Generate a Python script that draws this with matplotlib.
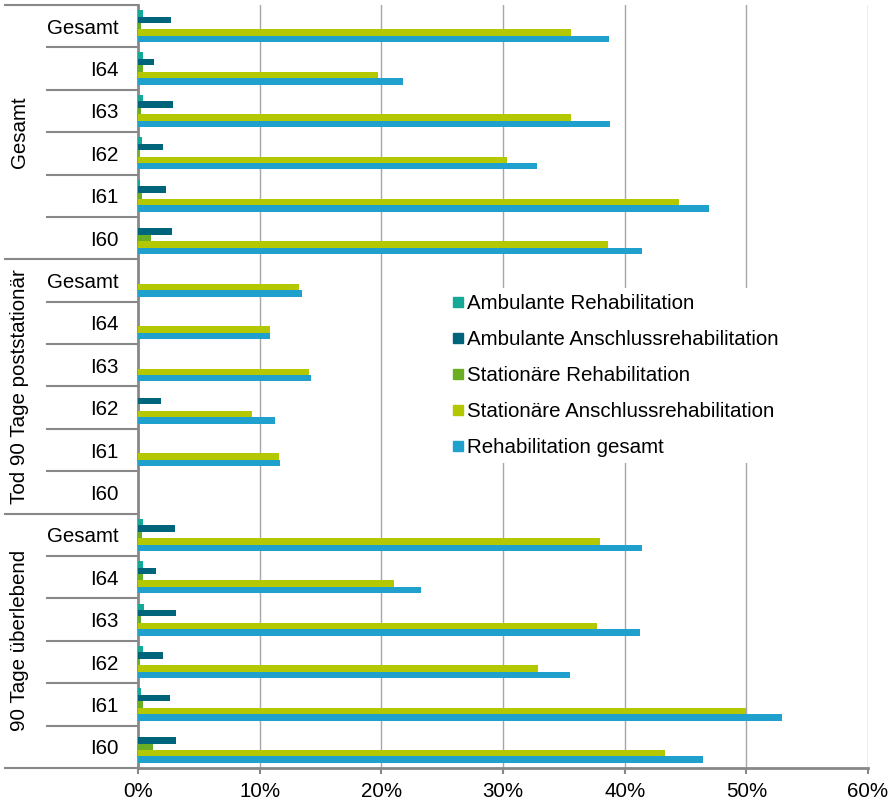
import matplotlib.pyplot as plt
import matplotlib.transforms as mtransforms
from matplotlib.lines import Line2D
import numpy as np

plt.rcParams['font.family'] = ['Liberation Sans', 'DejaVu Sans']

# categories top to bottom (3 groups x 6 rows)
groups = ["Gesamt", "Tod 90 Tage poststationär", "90 Tage überlebend"]
rows = ["Gesamt", "I64", "I63", "I62", "I61", "I60"]
series = ["Ambulante Rehabilitation", "Ambulante Anschlussrehabilitation",
          "Stationäre Rehabilitation", "Stationäre Anschlussrehabilitation",
          "Rehabilitation gesamt"]
colors = ["#14A896", "#00657B", "#6AAF23", "#B3C800", "#1FA0CD"]

# values in %, order of rows above, one list per group
amb_reha = [0.45, 0.4, 0.45, 0.35, 0.2, 0.0,
            0.0, 0.0, 0.0, 0.0, 0.0, 0.0,
            0.45, 0.45, 0.5, 0.4, 0.25, 0.0]
amb_ahb = [2.75, 1.3, 2.9, 2.05, 2.3, 2.8,
           0.0, 0.0, 0.0, 1.85, 0.0, 0.0,
           3.05, 1.5, 3.15, 2.05, 2.65, 3.1]
stat_reha = [0.25, 0.4, 0.25, 0.1, 0.3, 1.1,
             0.0, 0.0, 0.0, 0.0, 0.0, 0.0,
             0.3, 0.45, 0.25, 0.15, 0.4, 1.25]
stat_ahb = [35.6, 19.7, 35.6, 30.3, 44.5, 38.6,
            13.2, 10.85, 14.05, 9.4, 11.6, 0.0,
            38.0, 21.0, 37.7, 32.9, 50.0, 43.3]
reha_ges = [38.7, 21.75, 38.8, 32.8, 46.9, 41.4,
            13.45, 10.85, 14.2, 11.3, 11.65, 0.0,
            41.4, 23.3, 41.25, 35.5, 52.9, 46.45]

values = [amb_reha, amb_ahb, stat_reha, stat_ahb, reha_ges]
labels = rows * len(groups)

fig = plt.figure(figsize=(8.95, 8.05), dpi=100)
ax = fig.add_axes([138 / 895, 1 - 768 / 805, 730 / 895, 763 / 805])

y = np.arange(len(labels))
h = 0.152
for i in range(len(series)):
    ax.barh(y + (i - 2) * h, values[i], height=h, color=colors[i],
            edgecolor="none", label=series[i], zorder=3)

ax.set_xlim(0, 60)
ax.set_ylim(len(labels) - 0.5, -0.5)
ax.set_xticks(range(0, 61, 10))
ax.set_xticklabels([f"{t}%" for t in range(0, 61, 10)])
ax.set_yticks(y)
ax.set_yticklabels(labels)
ax.tick_params(axis="y", length=0, pad=14, labelsize=14.8)
ax.tick_params(axis="x", length=4, width=1.5, color="#888888", pad=6, labelsize=14.8)
ax.grid(axis="x", color="#A6A6A6", lw=1, zorder=0)
ax.set_axisbelow(True)
for s in ["top", "right"]:
    ax.spines[s].set_visible(False)
ax.spines["left"].set_color("#888888")
ax.spines["left"].set_linewidth(2)
ax.spines["bottom"].set_color("#888888")
ax.spines["bottom"].set_linewidth(2)

# separator lines on the label side
trans = mtransforms.blended_transform_factory(ax.transAxes, ax.transData)
x_row = (47 - 138) / 730
x_grp = (5 - 138) / 730
for k in range(len(labels) + 1):
    yy = k - 0.5
    x0 = x_grp if k % len(rows) == 0 else x_row
    ax.plot([x0, 0], [yy, yy], transform=trans, color="#888888", lw=1.5,
            clip_on=False, zorder=5)

# group labels, rotated
for g, name in enumerate(groups):
    yc = g * len(rows) + (len(rows) - 1) / 2
    ax.text(x_grp + 15 / 730, yc, name, transform=trans, rotation=90,
            ha="center", va="center", fontsize=14.8)

handles = [Line2D([], [], marker="s", ls="none", color=c, markersize=7.5)
           for c in colors]
leg = ax.legend(handles, series, loc="upper left",
                bbox_to_anchor=((436 - 138) / 730, 1 - (278 - 5) / 763),
                fontsize=14.8, frameon=True, facecolor="white", edgecolor="none",
                framealpha=1, fancybox=False, handlelength=0.5,
                handletextpad=0.22, labelspacing=0.82, borderpad=0.3)
leg.set_zorder(6)

fig.savefig("out.png", dpi=100)
